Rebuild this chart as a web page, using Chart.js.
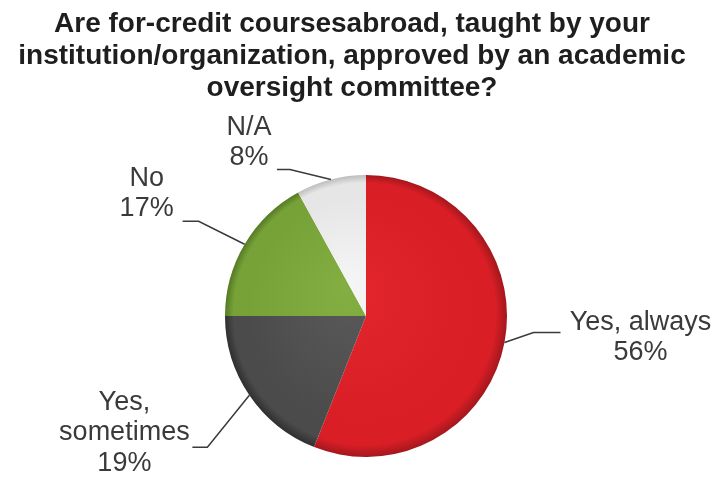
<!DOCTYPE html>
<html>
<head>
<meta charset="utf-8">
<script src="https://cdn.jsdelivr.net/npm/chart.js@4"></script>
<style>
  body { margin: 0; background: #fff; }
  canvas { display: block; }
</style>
</head>
<body>
<canvas id="myChart-approval" width="723" height="485"></canvas>
<script>
// Data
const titleLines = [
    'Are for-credit coursesabroad, taught by your',
    'institution/organization, approved by an academic',
    'oversight committee?'
];
const categories = ['Yes, always', 'Yes, sometimes', 'No', 'N/A'];
const categoryLines = [['Yes, always'], ['Yes,', 'sometimes'], ['No'], ['N/A']];
const percentages = [56, 19, 17, 8];

// slice colours: [centre, body, rim]
const sliceColors = [
    ['#e3262d', '#d91e26', '#a3171d'],
    ['#5a5a5a', '#4b4b4b', '#2f2f2f'],
    ['#82ae42', '#76a238', '#557a24'],
    ['#f6f6f6', '#e6e6e6', '#bdbdbd']
];

// leader line layout: elbow offset from slice edge, horizontal run, text offset from run end
const leaders = [
    { elbow: [29, -10], run: 27, text: [80, -10] },
    { elbow: [-42, 52], run: -15, text: [-68, -45] },
    { elbow: [-46, -23], run: -16, text: [-36, -43] },
    { elbow: [-41, -10], run: -13, text: [-28, -42] }
];

const titlePlugin = {
    id: 'drawTitle',
    afterDraw(chart) {
        const c = chart.ctx;
        c.save();
        c.font = 'bold 28px "Liberation Sans", Arial, sans-serif';
        c.fillStyle = '#1e1e1e';
        c.textAlign = 'center';
        c.textBaseline = 'alphabetic';
        titleLines.forEach((t, i) => {
            c.fillText(t, 352, 32 + i * 32);
        });
        c.restore();
    }
};

const labelPlugin = {
    id: 'leaderLabels',
    afterDatasetsDraw(chart) {
        const c = chart.ctx;
        const arcs = chart.getDatasetMeta(0).data;
        c.save();
        c.strokeStyle = '#3a3a3a';
        c.lineWidth = 1.5;
        c.fillStyle = '#3a3a3a';
        c.font = '27px "Liberation Sans", Arial, sans-serif';
        c.textAlign = 'center';
        c.textBaseline = 'middle';
        arcs.forEach((arc, i) => {
            const mid = (arc.startAngle + arc.endAngle) / 2;
            const ex = arc.x + Math.cos(mid) * arc.outerRadius;
            const ey = arc.y + Math.sin(mid) * arc.outerRadius;
            const L = leaders[i];
            const bx = ex + L.elbow[0], by = ey + L.elbow[1];
            const endX = bx + L.run;
            c.beginPath();
            c.moveTo(ex, ey);
            c.lineTo(bx, by);
            c.lineTo(endX, by);
            c.stroke();
            const lines = categoryLines[i].concat([percentages[i] + '%']);
            lines.forEach((t, k) => {
                c.fillText(t, endX + L.text[0], by + L.text[1] + k * 30.5);
            });
        });
        c.restore();
    }
};

function sliceFill(context) {
    const chart = context.chart;
    const area = chart.chartArea;
    if (!area) return sliceColors[context.dataIndex][1];
    const cx = (area.left + area.right) / 2;
    const cy = (area.top + area.bottom) / 2;
    const r = Math.min(area.right - area.left, area.bottom - area.top) / 2;
    const col = sliceColors[context.dataIndex];
    const g = chart.ctx.createRadialGradient(cx - r * 0.15, cy - r * 0.2, 0, cx, cy, r);
    g.addColorStop(0, col[0]);
    g.addColorStop(0.8, col[1]);
    g.addColorStop(0.93, col[1]);
    g.addColorStop(1, col[2]);
    return g;
}

const ctx = document.getElementById('myChart-approval').getContext('2d');
const myChart = new Chart(ctx, {
    type: 'pie',
    data: {
        labels: categories,
        datasets: [{
            data: percentages,
            backgroundColor: sliceFill,
            borderWidth: 0
        }]
    },
    options: {
        responsive: false,
        animation: false,
        layout: { padding: { top: 175, bottom: 28, left: 9, right: 0 } },
        plugins: {
            legend: { display: false },
            tooltip: { enabled: false },
            title: { display: false }
        }
    },
    plugins: [titlePlugin, labelPlugin]
});
</script>
</body>
</html>
